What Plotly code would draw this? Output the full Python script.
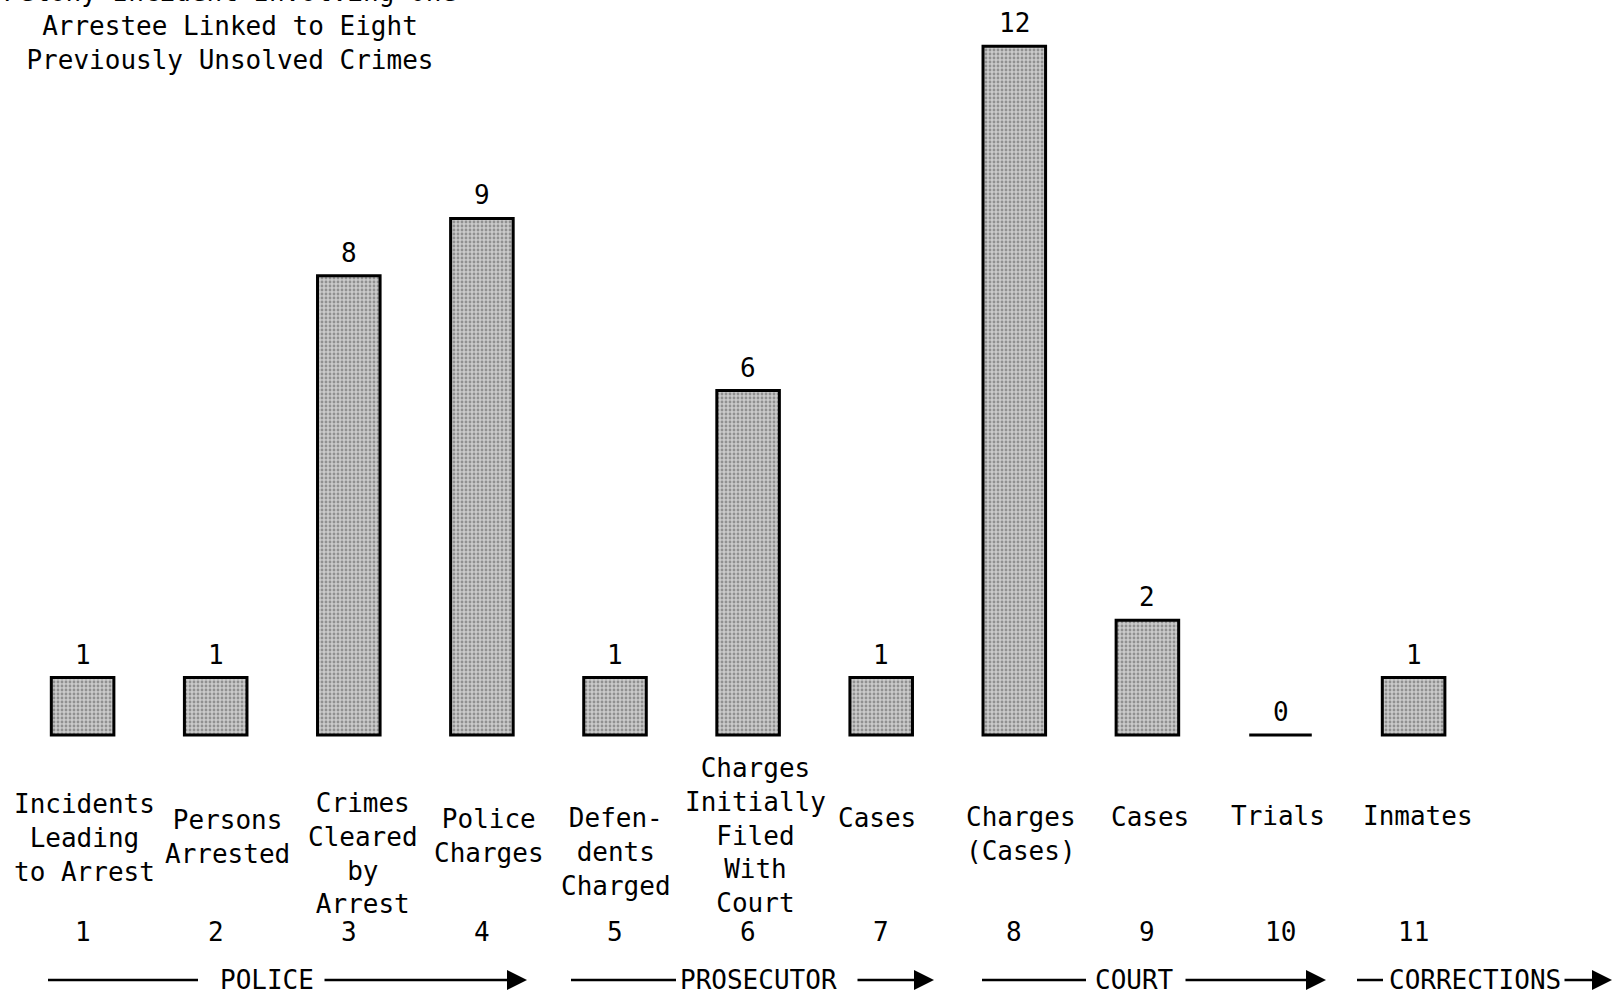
import plotly.graph_objects as go

# ---- data ----
stage_numbers = ["1", "2", "3", "4", "5", "6", "7", "8", "9", "10", "11"]
category_labels = [
    "Incidents<br>Leading<br>to Arrest",
    "Persons<br>Arrested",
    "Crimes<br>Cleared<br>by<br>Arrest",
    "Police<br>Charges",
    "Defen-<br>dents<br>Charged",
    "Charges<br>Initially<br>Filed<br>With<br>Court",
    "Cases",
    "Charges<br>(Cases)",
    "Cases",
    "Trials",
    "Inmates",
]
values = [1, 1, 8, 9, 1, 6, 1, 12, 2, 0, 1]
title_text = "Felony Incident Involving One<br>Arrestee Linked to Eight<br>Previously Unsolved Crimes"
stage_groups = ["POLICE", "PROSECUTOR", "COURT", "CORRECTIONS"]

# ---- layout constants (pixels in a 1618x1000 page) ----
W, H = 1618, 1000
FONT = "DejaVu Sans Mono"
FS = 26
label_dx = [2, 12, 14, 7, 1, 7, -4, 7, 3, -2, 4]          # small horizontal offsets of labels
label_cy = [838, 837, 853, 836, 852, 835, 818, 834, 817, 816, 816]  # label vertical centres
number_y = 932
group_y = 980
# (left line start, left line end, text centre, arrow start, arrow tip)
group_geom = [
    (48, 198, 267, 323, 527),
    (571, 676, 758, 856, 934),
    (982, 1086, 1134, 1184, 1326),
    (1357, 1383, 1475, 1563, 1612),
]

x_first, x_step = 82.6, 133.1
xr = [-x_first / x_step, (W - x_first) / x_step]
base_px, unit_px = 735, 57.4
yr = [-(H - base_px) / unit_px, base_px / unit_px]


def px(p):
    return p / W


def py(p):
    return 1 - p / H


fig = go.Figure()
fig.add_trace(go.Bar(
    x=list(range(len(values))),
    y=values,
    width=0.47,
    cliponaxis=False,
    marker=dict(
        color="#c4c4c4",
        line=dict(color="black", width=3),
        pattern=dict(shape=".", fgcolor="#555555", bgcolor="#cacaca", size=4, solidity=0.4),
    ),
    hoverinfo="skip",
    showlegend=False,
))

annotations = []
# value labels above bars
for i, v in enumerate(values):
    annotations.append(dict(text=str(v), x=i, y=v, xref="x", yref="y", yshift=23,
                            xanchor="center", yanchor="middle", showarrow=False,
                            font=dict(family=FONT, size=FS, color="black")))
# title (top line partly cut off by the page edge, as in the original)
annotations.append(dict(text=title_text, x=px(230), y=py(26), xref="paper", yref="paper",
                        xanchor="center", yanchor="middle", showarrow=False, align="center",
                        font=dict(family=FONT, size=FS, color="black")))
# category labels & stage numbers
for i, (lab, num) in enumerate(zip(category_labels, stage_numbers)):
    xc = x_first + i * x_step
    annotations.append(dict(text=lab, x=px(xc + label_dx[i]), y=py(label_cy[i]), xref="paper", yref="paper",
                            xanchor="center", yanchor="middle", showarrow=False, align="center",
                            font=dict(family=FONT, size=FS, color="black")))
    annotations.append(dict(text=num, x=i, y=py(number_y), xref="x", yref="paper",
                            xanchor="center", yanchor="middle", showarrow=False,
                            font=dict(family=FONT, size=FS, color="black")))

shapes = []
for name, (l0, l1, tc, r0, r1) in zip(stage_groups, group_geom):
    shapes.append(dict(type="line", xref="paper", yref="paper", x0=px(l0), x1=px(l1),
                       y0=py(group_y), y1=py(group_y), line=dict(color="black", width=2.5)))
    annotations.append(dict(text=name, x=px(tc), y=py(group_y), xref="paper", yref="paper",
                            xanchor="center", yanchor="middle", showarrow=False,
                            font=dict(family=FONT, size=FS, color="black")))
    annotations.append(dict(text="", x=px(r1), y=py(group_y), xref="paper", yref="paper",
                            showarrow=True, ax=r0 - r1, ay=0, axref="pixel", ayref="pixel",
                            arrowhead=2, arrowsize=1.6, arrowwidth=2.5, arrowcolor="black",
                            standoff=0, startstandoff=0))

fig.update_layout(
    width=W, height=H,
    margin=dict(l=0, r=0, t=0, b=0),
    paper_bgcolor="white", plot_bgcolor="white",
    xaxis=dict(range=xr, visible=False, showgrid=False, zeroline=False),
    yaxis=dict(range=yr, visible=False, showgrid=False, zeroline=False),
    annotations=annotations,
    shapes=shapes,
    font=dict(family=FONT, size=FS, color="black"),
    hovermode=False,
)

fig.write_html("out.html", config={"displayModeBar": False},
               post_script="document.body.style.margin='0';")
